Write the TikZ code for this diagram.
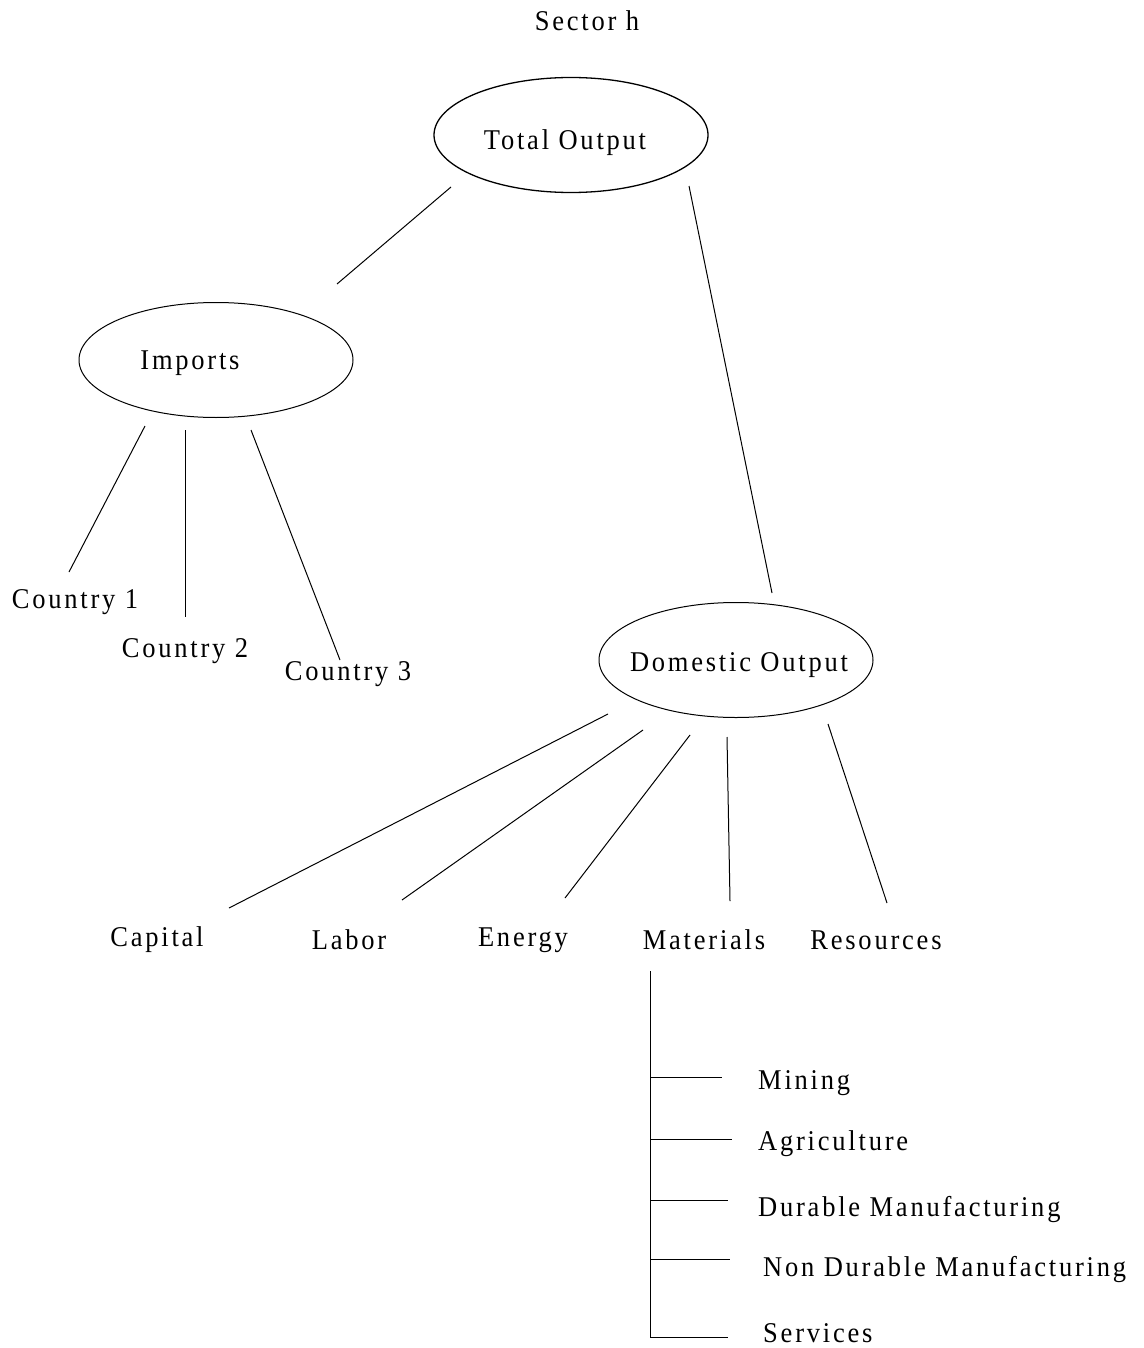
\documentclass[tikz,border=0pt]{standalone}
\usepackage{graphicx}
\usepackage{fontspec}
\setmainfont{Liberation Serif}[LetterSpace=10.5]
\usetikzlibrary{shapes.geometric,calc}
\newcommand{\tallt}[1]{\scalebox{1}[1.08]{#1}}
\tikzset{
  lbl/.style={inner sep=0pt, font=\fontsize{26.5}{31}\selectfont},
  oval/.style={draw, ellipse, line width=1.3pt, minimum width=274pt, minimum height=115pt, inner sep=0pt},
  conn/.style={line width=1pt}
}
\begin{document}
\begin{tikzpicture}[x=1pt,y=-1pt]
\useasboundingbox (0,0) rectangle (1143,1348);
% title
\node[lbl] (title) at (587,21) {\tallt{Sector h}};
% ellipses
\node[oval] (tot) at (571,135) {};
\node[lbl] (totl) at (565,143) {\tallt{Total Output}};
\node[oval,line width=1pt] (imp) at (216,360) {};
\node[lbl] (impl) at (190,363) {\tallt{Imports}};
\node[oval,line width=1pt] (dom) at (736,660) {};
\node[lbl] (doml) at (739,665) {\tallt{Domestic Output}};
% countries
\node[lbl] (c1) at (75,602) {\tallt{Country 1}};
\node[lbl] (c2) at (185,651) {\tallt{Country 2}};
\node[lbl] (c3) at (348,674) {\tallt{Country 3}};
% factors
\node[lbl] (cap) at (157,940) {\tallt{Capital}};
\node[lbl] (lab) at (349,940) {\tallt{Labor}};
\node[lbl] (ene) at (523,940) {\tallt{Energy}};
\node[lbl] (mat) at (704,940) {\tallt{Materials}};
\node[lbl] (res) at (876,940) {\tallt{Resources}};
% material sectors
\node[lbl,anchor=west] (min) at (758,1083) {\tallt{Mining}};
\node[lbl,anchor=west] (agr) at (758,1144) {\tallt{Agriculture}};
\node[lbl,anchor=west] (dur) at (758,1209) {\tallt{Durable Manufacturing}};
\node[lbl,anchor=west] (ndu) at (763,1269) {\tallt{Non Durable Manufacturing}};
\node[lbl,anchor=west] (ser) at (763,1333) {\tallt{Services}};
% connectors top
\draw[conn] ($(tot)+(-120,52)$) -- ($(imp)+(121,-76)$);
\draw[conn] ($(tot)+(118,51)$) -- ($(dom)+(36,-67)$);
% imports children
\draw[conn] ($(imp)+(-71,66)$) -- ($(c1)+(-6,-30)$);
\draw[conn] ($(imp)+(-31,70)$) -- ($(c2)+(0,-34)$);
\draw[conn] ($(imp)+(35,70)$) -- ($(c3)+(-8,-14)$);
% domestic children
\draw[conn] ($(dom)+(-128,54)$) -- ($(cap)+(72,-32)$);
\draw[conn] ($(dom)+(-93,70)$) -- ($(lab)+(53,-40)$);
\draw[conn] ($(dom)+(-46,75)$) -- ($(ene)+(42,-42)$);
\draw[conn] ($(dom)+(-9,77)$) -- ($(mat)+(26,-39)$);
\draw[conn] ($(dom)+(92,64)$) -- ($(res)+(11,-37)$);
% materials tree
\coordinate (mtop) at ($(mat)+(-54,31)$);
\coordinate (mbot) at (650,1337);
\draw[conn] (mtop) -- (mbot);
\coordinate (emin) at ($(min.west)+(-36,-6)$);
\coordinate (eagr) at ($(agr.west)+(-26,-5)$);
\coordinate (edur) at ($(dur.west)+(-30,-9)$);
\coordinate (endu) at ($(ndu.west)+(-33,-10)$);
\coordinate (eser) at ($(ser.west)+(-35,4)$);
\draw[conn] (mtop |- emin) -- (emin);
\draw[conn] (mtop |- eagr) -- (eagr);
\draw[conn] (mtop |- edur) -- (edur);
\draw[conn] (mtop |- endu) -- (endu);
\draw[conn] (mtop |- eser) -- (eser);
\end{tikzpicture}
\end{document}
